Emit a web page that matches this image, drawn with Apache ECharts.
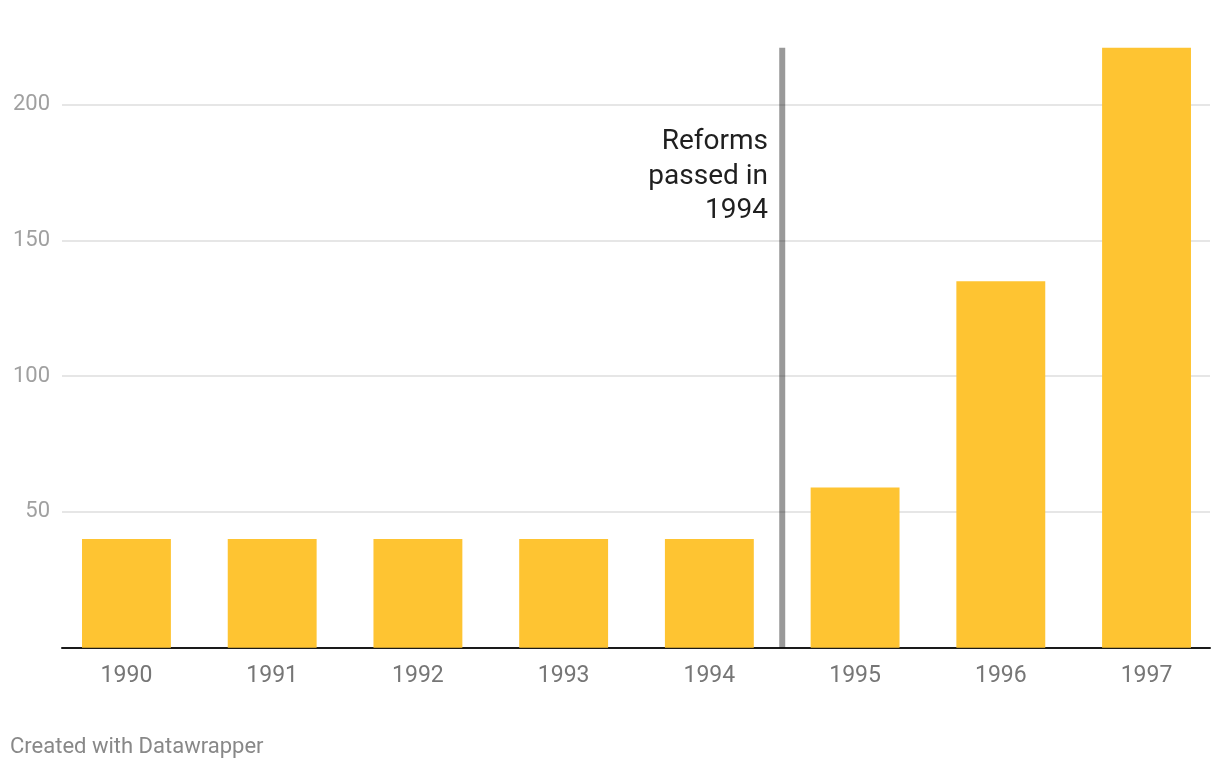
<!DOCTYPE html>
<html>
<head>
<meta charset="utf-8">
<script src="https://cdn.jsdelivr.net/npm/echarts@6/dist/echarts.min.js"></script>
<style>
html,body{margin:0;padding:0;background:#fff;}
#chart{width:1220px;height:770px;}
</style>
</head>
<body>
<div id="chart"></div>
<script>
// Data
const categories = ['1990','1991','1992','1993','1994','1995','1996','1997'];
const values = [40, 40, 40, 40, 40, 59, 135, 221];
const yTicks = [50, 100, 150, 200];
const yMax = 221;
const markerPosition = 4.5; // between 1994 and 1995
const markerText = 'Reforms\npassed in\n1994';
const footerText = 'Created with Datawrapper';

const FONT = 'Roboto';
const chart = echarts.init(document.getElementById('chart'), null, {renderer: 'canvas'});

const option = {
  animation: false,
  backgroundColor: '#ffffff',
  textStyle: {fontFamily: FONT},
  grid: [
    {left: 62, right: 10, top: 47.7, height: 600},
    {left: 53.6, right: 0.6, top: 47.7, height: 600}
  ],
  xAxis: [
    {
      type: 'value', gridIndex: 0, min: 0, max: 1,
      axisLine: {show: true, onZero: false, lineStyle: {color: '#1a1a1a', width: 2}},
      axisTick: {show: false}, axisLabel: {show: false}, splitLine: {show: false}
    },
    {
      type: 'category', gridIndex: 1, data: categories, boundaryGap: true,
      axisLine: {show: false}, axisTick: {show: false}, splitLine: {show: false},
      axisLabel: {color: '#767676', fontSize: 23, fontFamily: FONT, margin: 17}
    },
    {
      type: 'value', gridIndex: 1, min: -0.5, max: categories.length - 0.5, show: false
    }
  ],
  yAxis: [
    {
      type: 'value', gridIndex: 0, min: 0, max: yMax, interval: 50,
      axisLine: {show: false}, axisTick: {show: false},
      axisLabel: {
        color: '#a0a0a0', fontSize: 22, fontFamily: FONT, margin: 12,
        showMinLabel: false, showMaxLabel: false,
        formatter: function (v) { return yTicks.indexOf(v) >= 0 ? String(v) : ''; }
      },
      splitLine: {show: true, showMinLine: false, showMaxLine: false, lineStyle: {color: '#e6e6e6', width: 2}}
    },
    {
      type: 'value', gridIndex: 1, min: 0, max: yMax, show: false
    }
  ],
  series: [
    {
      type: 'bar', xAxisIndex: 1, yAxisIndex: 1,
      data: values, barWidth: '61%',
      itemStyle: {color: '#fec432'},
      z: 2
    },
    {
      type: 'line', xAxisIndex: 2, yAxisIndex: 1,
      data: [[markerPosition, 0], [markerPosition, yMax]],
      symbol: 'none',
      lineStyle: {color: 'rgba(0,0,0,0.4)', width: 6, cap: 'butt'},
      z: 3
    }
  ],
  graphic: [
    {
      type: 'text', right: 1220 - 768, top: 125,
      style: {
        text: markerText, fill: '#1f1f1f', font: '28px Roboto',
        lineHeight: 34.5, textAlign: 'right'
      }
    },
    {
      type: 'text', left: 10, top: 736,
      style: {text: footerText, fill: '#888888', font: '22px Roboto'}
    }
  ]
};
chart.setOption(option);
</script>
</body>
</html>
